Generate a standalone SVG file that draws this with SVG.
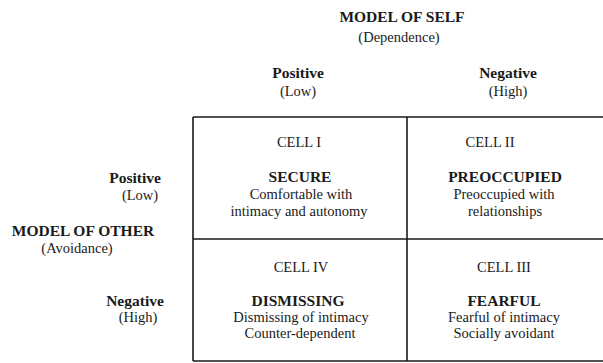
<svg xmlns="http://www.w3.org/2000/svg" width="603" height="363" viewBox="0 0 603 363">
<style>
text{font-family:"Liberation Serif","Times New Roman",serif;fill:#1a1a1a;text-anchor:middle;font-size:14.5px}
.b{font-weight:bold;font-size:15.5px}
.r{text-anchor:end}
.g{stroke:#1a1a1a;stroke-width:1.6;fill:none}
</style>
<rect width="603" height="363" fill="#fff"/>
<g id="self-axis">
<text class="b" x="402" y="22">MODEL OF SELF</text>
<text x="399" y="42">(Dependence)</text>
<text class="b" x="298" y="78">Positive</text>
<text x="298" y="96">(Low)</text>
<text class="b" x="508" y="78">Negative</text>
<text x="508" y="96">(High)</text>
</g>
<g id="other-axis">
<text class="b" x="135" y="183">Positive</text>
<text x="140" y="200">(Low)</text>
<text class="b" x="83" y="236">MODEL OF OTHER</text>
<text x="77" y="253">(Avoidance)</text>
<text class="b" x="135" y="306">Negative</text>
<text x="138" y="322">(High)</text>
</g>
<g id="grid">
<path class="g" d="M193 117H603M193 239H603M193 361H603M193 117V361M407 117V361"/>
</g>
<g id="cell-1">
<text x="299" y="147">CELL I</text>
<text class="b" x="300" y="182">SECURE</text>
<text x="301" y="199">Comfortable with</text>
<text x="299" y="216">intimacy and autonomy</text>
</g>
<g id="cell-2">
<text x="490" y="147">CELL II</text>
<text class="b" x="505" y="182">PREOCCUPIED</text>
<text x="504" y="199">Preoccupied with</text>
<text x="505" y="216">relationships</text>
</g>
<g id="cell-4">
<text x="301" y="272">CELL IV</text>
<text class="b" x="298" y="306">DISMISSING</text>
<text x="301" y="322">Dismissing of intimacy</text>
<text x="300" y="338">Counter-dependent</text>
</g>
<g id="cell-3">
<text x="504" y="272">CELL III</text>
<text class="b" x="504" y="306">FEARFUL</text>
<text x="504" y="322">Fearful of intimacy</text>
<text x="504" y="338">Socially avoidant</text>
</g>
</svg>
